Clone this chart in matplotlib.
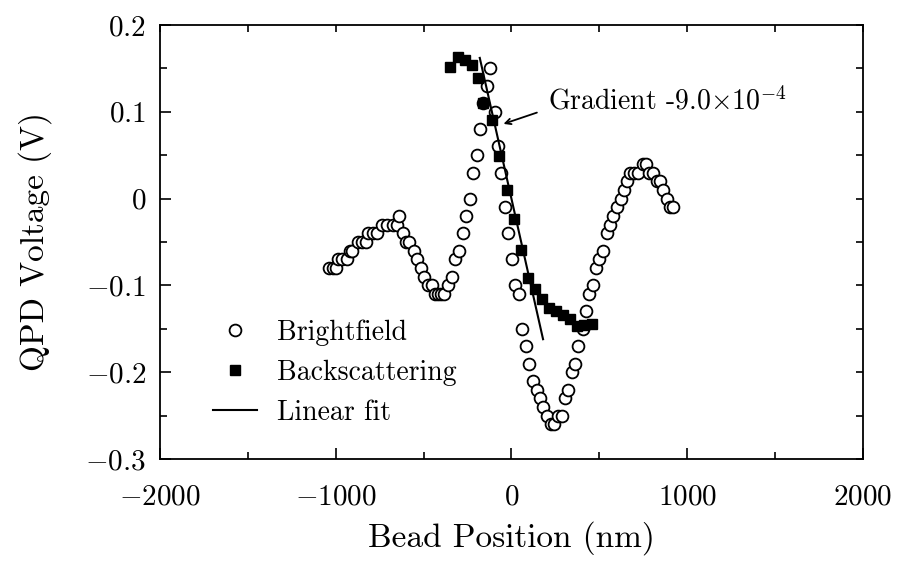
import matplotlib
matplotlib.use('Agg')
import matplotlib.pyplot as plt
from matplotlib.ticker import MultipleLocator

plt.rcParams['font.family'] = 'serif'
plt.rcParams['font.serif'] = ['cmr10']
plt.rcParams['mathtext.fontset'] = 'cm'
plt.rcParams['axes.formatter.use_mathtext'] = True

# Brightfield (nm, V)
bf_x = [-1037, -1017, -999, -985, -961, -938, -920, -905, -872, -849, -828,
        -818, -790, -764, -739, -707, -676, -653, -640, -616, -600, -580,
        -555, -539, -517, -498, -477, -454, -435, -418, -400, -382, -360,
        -340, -321, -297, -278, -259, -236, -217, -198, -179, -160, -141,
        -122, -94, -78, -62, -37, -18, 1, 20, 43, 62, 83, 101, 121, 143,
        162, 181, 200, 223, 242, 266, 286, 304, 323, 342, 361, 380, 405,
        424, 443, 462, 481, 500, 522, 542, 560, 579, 599, 621, 640, 659,
        674, 697, 722, 746, 765, 785, 803, 826, 845, 864, 883, 902, 922]
bf_y = [-0.08, -0.08, -0.08, -0.07, -0.07, -0.07, -0.06, -0.06, -0.05, -0.05, -0.05,
        -0.04, -0.04, -0.04, -0.03, -0.03, -0.03, -0.03, -0.02, -0.04, -0.05, -0.05,
        -0.06, -0.07, -0.08, -0.09, -0.10, -0.10, -0.11, -0.11, -0.11, -0.11, -0.10,
        -0.09, -0.07, -0.06, -0.04, -0.02, 0.00, 0.03, 0.05, 0.08, 0.11, 0.13,
        0.15, 0.10, 0.06, 0.03, -0.01, -0.04, -0.07, -0.10, -0.11, -0.15, -0.17, -0.19, -0.21, -0.22,
        -0.23, -0.24, -0.25, -0.26, -0.26, -0.25, -0.25, -0.23, -0.22, -0.20, -0.19, -0.17, -0.15,
        -0.13, -0.11, -0.10, -0.08, -0.07, -0.06, -0.04, -0.03, -0.02, -0.01, 0.00, 0.01, 0.02,
        0.03, 0.03, 0.03, 0.04, 0.04, 0.03, 0.03, 0.02, 0.02, 0.01, 0.00, -0.01, -0.01]

# Backscattering
bs_x = [-350, -303, -265, -227, -190, -160, -113, -69, -27, 12, 52, 93,
        134, 172, 215, 253, 291, 333, 371, 412, 456]
bs_y = [0.151, 0.163, 0.160, 0.154, 0.139, 0.110, 0.090, 0.049, 0.010, -0.023, -0.059, -0.091,
        -0.104, -0.116, -0.126, -0.130, -0.134, -0.139, -0.147, -0.146, -0.145]

# linear fit
fit_x = [-180, 180]
gradient = -9.0e-4
fit_y = [gradient * v for v in fit_x]

fig = plt.figure(figsize=(8.98, 5.66), dpi=100)
ax = fig.add_axes([0.178, 0.189, 0.783, 0.767])

ax.plot(bf_x, bf_y, 'o', mfc='white', mec='black', ms=8.5, mew=1.3, label='Brightfield', zorder=2)
ax.plot(bs_x, bs_y, 's', color='black', ms=7.5, label='Backscattering', zorder=3)
ax.plot(fit_x, fit_y, '-', color='black', lw=1.5, label='Linear fit', zorder=4)

ax.annotate('', xy=(-45, 0.086), xytext=(145, 0.099),
            arrowprops=dict(arrowstyle='->', color='black', lw=1.3, shrinkA=0, shrinkB=0))
ax.text(210, 0.112, 'Gradient -9.0$\\times10^{-4}$', fontsize=20, va='center')

ax.set_xlim(-2000, 2000)
ax.set_ylim(-0.3, 0.2)
ax.xaxis.set_minor_locator(MultipleLocator(500))
ax.yaxis.set_minor_locator(MultipleLocator(0.05))
ax.set_yticks([-0.3, -0.2, -0.1, 0, 0.1, 0.2])
ax.set_yticklabels(['$-0.3$', '$-0.2$', '$-0.1$', '$0$', '$0.1$', '$0.2$'])
ax.set_xticks([-2000, -1000, 0, 1000, 2000])
ax.set_xticklabels(['$-2000$', '$-1000$', '$0$', '$1000$', '$2000$'])

ax.tick_params(which='both', direction='in', top=True, right=True, labelsize=21, width=1.2)
ax.tick_params(which='major', length=8)
ax.tick_params(axis='x', which='major', pad=18)
ax.tick_params(axis='y', which='major', pad=10)
ax.tick_params(which='minor', length=5)
for t in ax.xaxis.get_major_ticks() + ax.yaxis.get_major_ticks():
    t.tick2line.set_markersize(5)
for sp in ax.spines.values():
    sp.set_linewidth(1.3)

ax.set_xlabel('Bead Position (nm)', fontsize=24, labelpad=8)
ax.set_ylabel('QPD Voltage (V)', fontsize=24, labelpad=24)

ax.legend(loc='upper left', bbox_to_anchor=(0.04, 0.38), frameon=False, fontsize=20,
          handlelength=1.6, handletextpad=0.7, labelspacing=0.5, numpoints=1)

fig.savefig('out.png', dpi=100)
